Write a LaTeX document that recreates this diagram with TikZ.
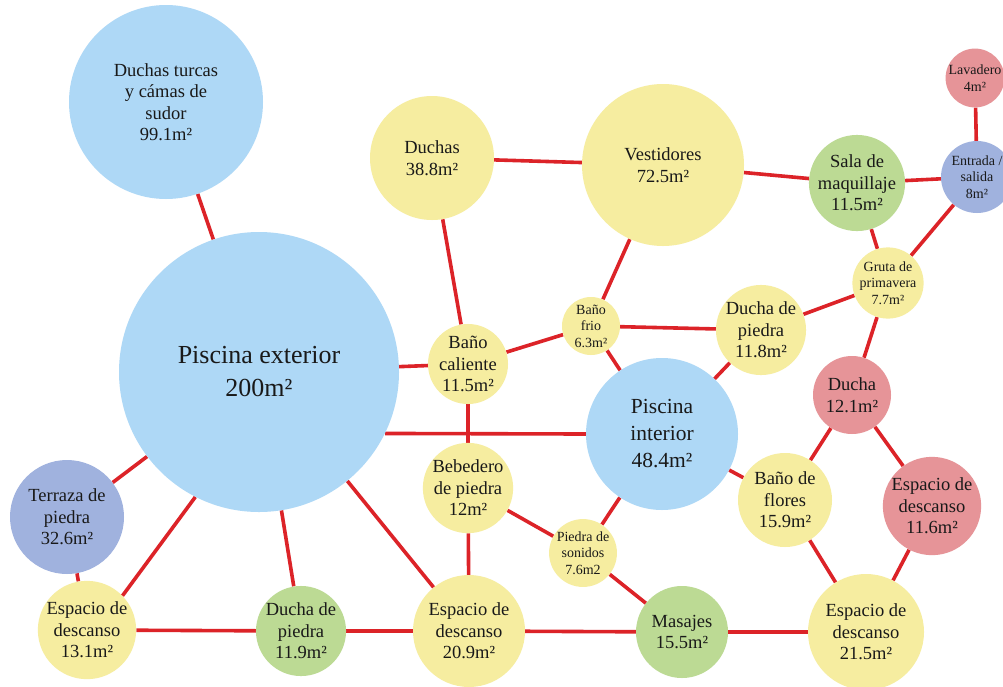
\documentclass[tikz,border=0pt]{standalone}
\usepackage{fontspec}
\setmainfont{Liberation Serif}
\usetikzlibrary{backgrounds}
\definecolor{cblue}{RGB}{174,216,246}
\definecolor{cyellow}{RGB}{246,237,160}
\definecolor{cgreen}{RGB}{188,218,148}
\definecolor{cpink}{RGB}{230,148,152}
\definecolor{cslate}{RGB}{160,178,222}
\definecolor{cline}{RGB}{220,35,40}
\tikzset{
  room/.style={circle, inner sep=0pt, align=center, text=black!90,
    font=\fontsize{18.5}{21.5}\selectfont},
  smallroom/.style={room, font=\fontsize{14}{16.5}\selectfont},
  link/.style={draw=cline, line width=3.6pt},
}
\begin{document}
\begin{tikzpicture}[x=1pt,y=-1pt]
\useasboundingbox (0,0) rectangle (1003,686);
% nodes
\node[room, fill=cblue, minimum size=194] (dt) at (166,102) {Duchas turcas\\y cámas de\\sudor\\99.1m²};
\node[room, fill=cblue, minimum size=280, font=\fontsize{26}{33}\selectfont] (pe) at (259,372) {Piscina exterior\\200m²};
\node[room, fill=cyellow, minimum size=124] (du) at (432,158) {Duchas\\38.8m²};
\node[room, fill=cyellow, minimum size=162] (ve) at (663,165) {Vestidores\\72.5m²};
\node[room, fill=cgreen, minimum size=78] (sm) at (857,183) {Sala de\\maquillaje\\11.5m²};
\node[smallroom, fill=cslate, minimum size=72] (en) at (977,177) {Entrada /\\salida\\8m²};
\node[smallroom, fill=cpink, minimum size=56] (la) at (975,78) {Lavadero\\4m²};
\node[smallroom, fill=cyellow, minimum size=60] (gr) at (888,283) {Gruta de\\primavera\\7.7m²};
\node[smallroom, fill=cyellow, minimum size=58] (bf) at (591,326) {Baño\\frio\\6.3m²};
\node[room, fill=cyellow, minimum size=80] (dpa) at (761,330) {Ducha de\\piedra\\11.8m²};
\node[room, fill=cyellow, minimum size=78] (bc) at (468,364) {Baño\\caliente\\11.5m²};
\node[room, fill=cblue, minimum size=152, font=\fontsize{21.5}{27}\selectfont] (pi) at (662,434) {Piscina\\interior\\48.4m²};
\node[room, fill=cpink, minimum size=78] (dc) at (852,395) {Ducha\\12.1m²};
\node[room, fill=cpink, minimum size=80] (eb) at (932,506) {Espacio de\\descanso\\11.6m²};
\node[room, fill=cyellow, minimum size=94] (fl) at (785,500) {Baño de\\flores\\15.9m²};
\node[room, fill=cyellow, minimum size=82] (be) at (468,488) {Bebedero\\de piedra\\12m²};
\node[smallroom, fill=cyellow, minimum size=66] (ps) at (583,553) {Piedra de\\sonidos\\7.6m2};
\node[room, fill=cslate, minimum size=114] (te) at (67,517) {Terraza de\\piedra\\32.6m²};
\node[room, fill=cyellow, minimum size=88] (ea) at (87,630) {Espacio de\\descanso\\13.1m²};
\node[room, fill=cgreen, minimum size=78] (dpb) at (301,631) {Ducha de\\piedra\\11.9m²};
\node[room, fill=cyellow, minimum size=112] (ec) at (469,631) {Espacio de\\descanso\\20.9m²};
\node[room, fill=cgreen, minimum size=92] (ma) at (682,632) {Masajes\\15.5m²};
\node[room, fill=cyellow, minimum size=116] (ed) at (866,632) {Espacio de\\descanso\\21.5m²};
% connectors
\begin{scope}[on background layer]
\fill[white] (0,0) rectangle (1003,686);
\draw[link] (dt) -- (pe);
\draw[link] (pe) -- (bc);
\draw[link] (pe.-26) -- (pi.west);
\draw[link] (pe) -- (te);
\draw[link] (pe.-117) -- (ea.44);
\draw[link] (pe) -- (dpb);
\draw[link] (pe) -- (ec);
\draw[link] (du) -- (ve);
\draw[link] (du) -- (bc);
\draw[link] (ve) -- (bf);
\draw[link] (ve) -- (sm);
\draw[link] (sm) -- (en);
\draw[link] (la) -- (en);
\draw[link] (sm) -- (gr);
\draw[link] (en) -- (gr);
\draw[link] (gr) -- (dpa);
\draw[link] (gr) -- (dc);
\draw[link] (bf) -- (dpa);
\draw[link] (bf) -- (bc);
\draw[link] (bf) -- (pi);
\draw[link] (dpa) -- (pi);
\draw[link] (bc) -- (be);
\draw[link] (be) -- (ec);
\draw[link] (be) -- (ps);
\draw[link] (ps) -- (pi);
\draw[link] (ps) -- (ma);
\draw[link] (pi) -- (fl);
\draw[link] (dc) -- (fl);
\draw[link] (dc) -- (eb);
\draw[link] (fl) -- (ed);
\draw[link] (eb) -- (ed);
\draw[link] (te) -- (ea);
\draw[link] (ea) -- (dpb);
\draw[link] (dpb) -- (ec);
\draw[link] (ec) -- (ma);
\draw[link] (ma) -- (ed);
\end{scope}
\end{tikzpicture}
\end{document}
